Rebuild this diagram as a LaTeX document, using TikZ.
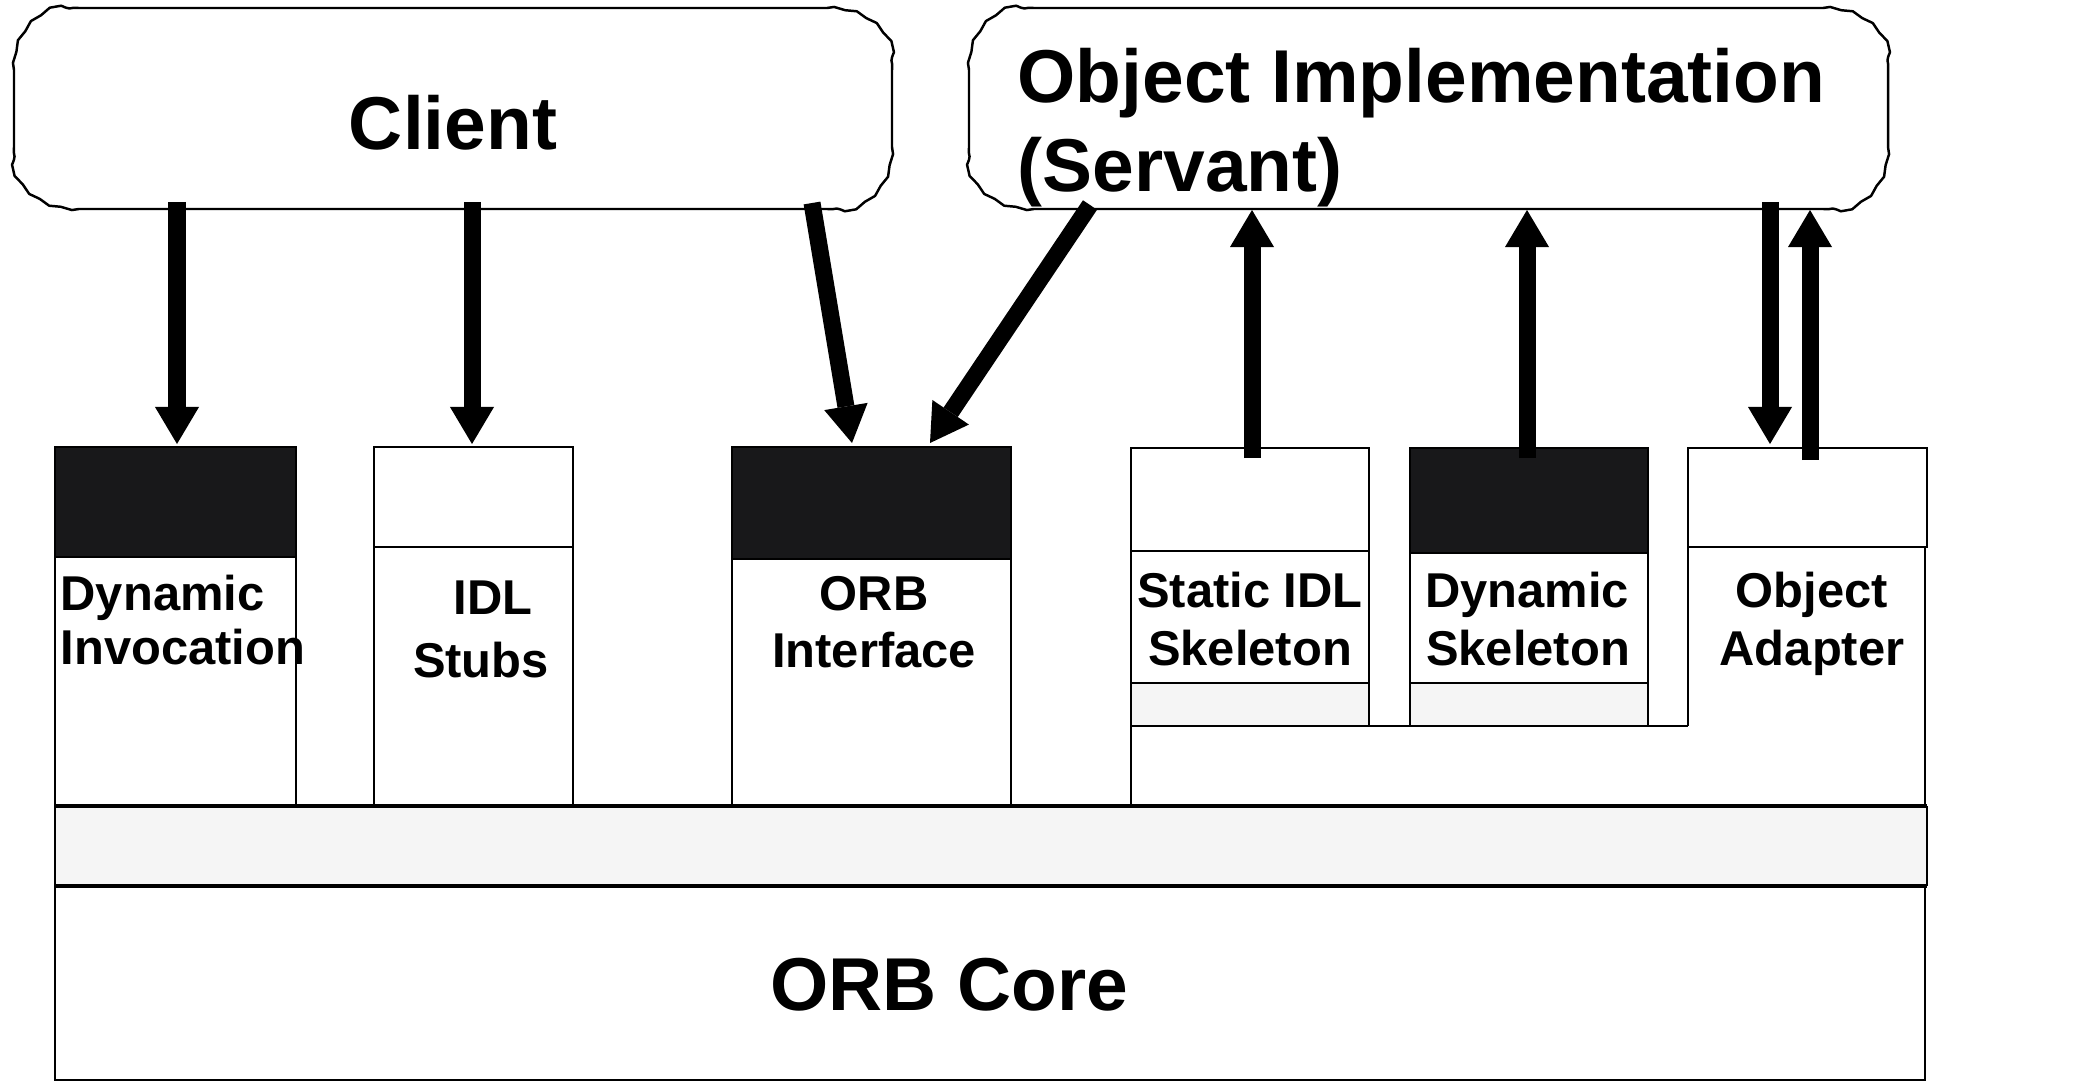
\documentclass[tikz,border=0pt]{standalone}
\usepackage{fontspec}
\setmainfont{Liberation Sans}
\usetikzlibrary{arrows.meta,decorations.pathmorphing}
\definecolor{boxblack}{HTML}{18181A}
\definecolor{bargrey}{HTML}{F5F5F5}
\newcommand{\mycloud}[4]{%
 \draw[cloudline] ({#1+65},#2) -- ({#3-65},#2)
  decorate{ .. controls ({#3-29},#2) and (#3,{#2+28}) .. (#3,{#2+62}) }
  -- (#3,{#4-62})
  decorate{ .. controls (#3,{#4-28}) and ({#3-29},#4) .. ({#3-65},#4) }
  -- ({#1+65},#4)
  decorate{ .. controls ({#1+29},#4) and (#1,{#4-28}) .. (#1,{#4-62}) }
  -- (#1,{#2+62})
  decorate{ .. controls (#1,{#2+28}) and ({#1+29},#2) .. ({#1+65},#2) };}
\begin{document}
\begin{tikzpicture}[x=0.01cm,y=-0.01cm,
  cloudline/.style={draw=black,line width=0.7pt,line join=round,
    decoration={snake,amplitude=0.3pt,segment length=6.5pt}},
  boxline/.style={draw=black,line width=0.6pt},
  thickline/.style={draw=black,line width=1.2pt},
  bigtext/.style={inner sep=0pt,font=\fontsize{21.3}{25}\selectfont\bfseries},
  labeltext/.style={inner sep=0pt,font=\fontsize{13.9}{16.5}\selectfont\bfseries},
  fatarrow/.style={line width=0.17cm,-{Triangle[length=0.37cm,width=0.44cm,line width=0pt]}}]
\useasboundingbox (0,0) rectangle (2100,1082);
\fill[white] (0,0) rectangle (2100,1082);

% clouds
\mycloud{14}{8}{892}{209}
\mycloud{969}{8}{1888}{209}
\node[bigtext,anchor=base] (clienttxt) at (453,150) {Client};
\node[bigtext,anchor=base west] (oitxta) at (1017,103) {Object Implementation};
\node[bigtext,anchor=base west] (oitxtb) at (1017,192) {(Servant)};

% Dynamic Invocation
\draw[boxline,fill=boxblack] (55,447) rectangle (296,557);
\draw[boxline] (55,557) rectangle (296,806);
\node[labeltext,anchor=base west] (dia) at (60,610) {Dynamic};
\node[labeltext,anchor=base west] (dib) at (60,664) {Invocation};

% IDL Stubs
\draw[boxline] (374,447) rectangle (573,547);
\draw[boxline] (374,547) rectangle (573,806);
\node[labeltext,anchor=base] (idla) at (493,614) {IDL};
\node[labeltext,anchor=base] (idlb) at (481,677) {Stubs};

% ORB Interface
\draw[boxline,fill=boxblack] (732,447) rectangle (1011,559);
\draw[boxline] (732,559) rectangle (1011,806);
\node[labeltext,anchor=base] (orbia) at (874,610) {ORB};
\node[labeltext,anchor=base] (orbib) at (874,667) {Interface};

% Static IDL Skeleton
\draw[boxline] (1131,448) rectangle (1369,551);
\draw[boxline] (1131,551) rectangle (1369,683);
\draw[boxline,fill=bargrey] (1131,683) rectangle (1369,726);
\draw[boxline] (1131,726) -- (1131,806);
\node[labeltext,anchor=base] (sisa) at (1250,607) {Static IDL};
\node[labeltext,anchor=base] (sisb) at (1250,665) {Skeleton};

% Dynamic Skeleton
\draw[boxline,fill=boxblack] (1410,448) rectangle (1648,553);
\draw[boxline] (1410,553) rectangle (1648,683);
\draw[boxline,fill=bargrey] (1410,683) rectangle (1648,726);
\node[labeltext,anchor=base] (dsa) at (1527,607) {Dynamic};
\node[labeltext,anchor=base] (dsb) at (1528,665) {Skeleton};

% connecting lines
\draw[boxline] (1369,726) -- (1410,726);
\draw[boxline] (1648,726) -- (1688,726);

% Object Adapter
\draw[boxline] (1688,448) rectangle (1927,547);
\draw[boxline] (1688,547) -- (1688,726);
\draw[boxline] (1925,547) -- (1925,806);
\node[labeltext,anchor=base] (oaa) at (1812,607) {Object};
\node[labeltext,anchor=base] (oab) at (1812,665) {Adapter};

% grey bar
\fill[bargrey] (55,806) rectangle (1927,886);
\draw[boxline] (55,806) -- (55,886);
\draw[boxline] (1927,806) -- (1927,886);
\draw[thickline] (55,806) -- (1927,806);
\draw[thickline] (55,886) -- (1927,886);

% ORB Core
\draw[boxline] (55,886) -- (55,1080) -- (1925,1080) -- (1925,886);
\node[bigtext,anchor=base] (core) at (949,1010) {ORB Core};

% arrow end points
\coordinate (c1) at (177,202);  \coordinate (di) at (177,444);
\coordinate (c2) at (472,202);  \coordinate (idl) at (472,444);
\coordinate (c3) at (812,203);  \coordinate (orbi1) at (852,443);
\coordinate (s1) at (1090,205); \coordinate (orbi2) at (930,443);
\coordinate (sis) at (1252,458); \coordinate (s2) at (1252,210);
\coordinate (ds) at (1527,458);  \coordinate (s3) at (1527,210);
\coordinate (s4) at (1770,202);  \coordinate (oa1) at (1770,444);
\coordinate (oa2) at (1810,460); \coordinate (s5) at (1810,210);

\draw[fatarrow] (c1) -- (di);
\draw[fatarrow] (c2) -- (idl);
\draw[fatarrow] (c3) -- (orbi1);
\draw[fatarrow] (s1) -- (orbi2);
\draw[fatarrow] (sis) -- (s2);
\draw[fatarrow] (ds) -- (s3);
\draw[fatarrow] (s4) -- (oa1);
\draw[fatarrow] (oa2) -- (s5);
\end{tikzpicture}
\end{document}
